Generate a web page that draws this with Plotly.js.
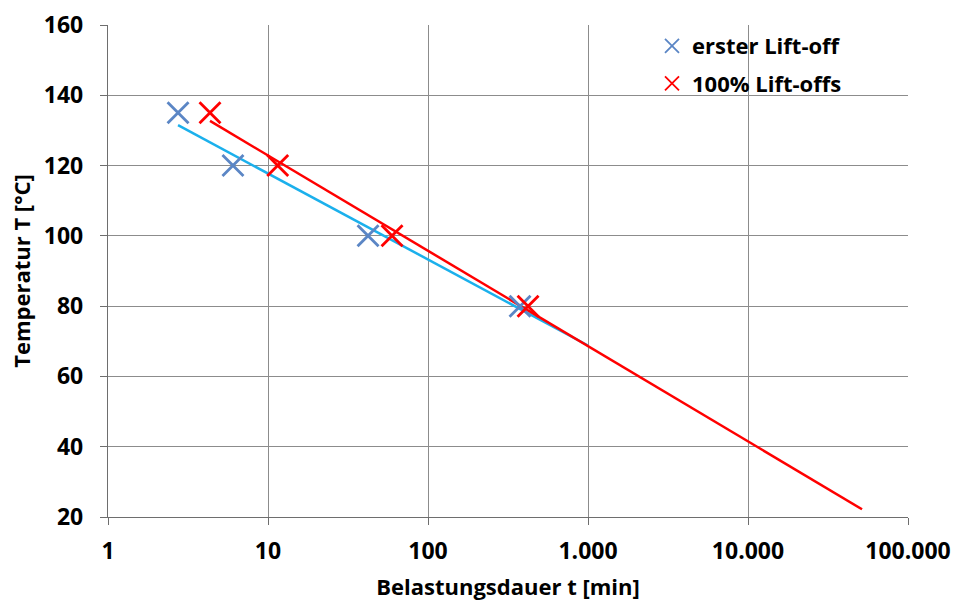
<!DOCTYPE html>
<html>
<head>
<meta charset="utf-8">
<script src="https://cdn.plot.ly/plotly-3.0.1.min.js"></script>
<style>html,body{margin:0;padding:0;background:#fff}#chart{width:955px;height:601px}</style>
</head>
<body>
<div id="chart"></div>
<script>
// Measured points (Belastungsdauer t [min], Temperatur T [°C])
const ersterX = [2.74, 6.04, 42.2, 376];
const ersterY = [135, 120, 100, 80];
const vollX = [4.34, 11.5, 59.6, 422];
const vollY = [135, 120, 100, 80];
// Trend lines (end points)
const ersterTrendX = [2.74, 1000];
const ersterTrendY = [131.5, 68.8];
const vollTrendX = [4.34, 51600];
const vollTrendY = [132.7, 22.2];
// Tick labels
const xTickVals = [1, 10, 100, 1000, 10000, 100000];
const xTickText = ['1', '10', '100', '1.000', '10.000', '100.000'];
const yTickVals = [20, 40, 60, 80, 100, 120, 140, 160];
const legendNames = ['erster Lift-off', '100% Lift-offs'];

const blueMarker = '#5B86C5';
const red = '#FF0000';
const lightBlue = '#1BB0EC';
const font = '"Open Sans", sans-serif';

const traces = [
  {x: ersterTrendX, y: ersterTrendY, mode: 'lines', line: {color: lightBlue, width: 2.5}, showlegend: false, hoverinfo: 'skip'},
  {x: vollTrendX, y: vollTrendY, mode: 'lines', line: {color: red, width: 2.5}, showlegend: false, hoverinfo: 'skip'},
  {x: ersterX, y: ersterY, mode: 'markers', showlegend: false,
   marker: {symbol: 'x-thin-open', size: 21, color: blueMarker, line: {color: blueMarker, width: 2.8}}},
  {x: vollX, y: vollY, mode: 'markers', showlegend: false,
   marker: {symbol: 'x-thin-open', size: 21, color: red, line: {color: red, width: 2.8}}},
  {x: [null], y: [null], mode: 'markers', name: legendNames[0], legendgroup: 'a',
   marker: {symbol: 'x-thin-open', size: 14, color: blueMarker, line: {color: blueMarker, width: 1.8}}},
  {x: [null], y: [null], mode: 'markers', name: legendNames[1], legendgroup: 'b',
   marker: {symbol: 'x-thin-open', size: 14, color: red, line: {color: red, width: 1.8}}}
];

const layout = {
  width: 955, height: 601,
  margin: {l: 108, r: 47, t: 25, b: 84},
  paper_bgcolor: '#fff', plot_bgcolor: '#fff',
  font: {family: font, color: '#000'},
  xaxis: {
    type: 'log', range: [0, 5],
    tickvals: xTickVals, ticktext: xTickText,
    tickfont: {size: 23, family: font, color: '#000', weight: 700},
    ticklabelstandoff: 6,
    showgrid: true, gridcolor: '#8c8c8c', gridwidth: 1,
    showline: true, linecolor: '#6e6e6e', linewidth: 1.2,
    ticks: 'outside', ticklen: 7, tickcolor: '#6e6e6e',
    zeroline: false,
    title: {text: 'Belastungsdauer t [min]', font: {size: 22, family: font, color: '#000', weight: 700}, standoff: 16}
  },
  yaxis: {
    range: [20, 160],
    tickvals: yTickVals,
    tickfont: {size: 23, family: font, color: '#000', weight: 700},
    ticklabelstandoff: 12,
    showgrid: true, gridcolor: '#8c8c8c', gridwidth: 1,
    showline: true, linecolor: '#6e6e6e', linewidth: 1.2,
    ticks: 'outside', ticklen: 7, tickcolor: '#6e6e6e',
    zeroline: false,
    title: {text: 'Temperatur T [°C]', font: {size: 22, family: font, color: '#000', weight: 700}, standoff: 7}
  },
  legend: {
    x: 0.68, y: 1.0, xanchor: 'left', yanchor: 'top',
    bgcolor: 'rgba(0,0,0,0)', borderwidth: 0,
    font: {size: 22, family: font, color: '#000', weight: 700},
    traceorder: 'grouped', tracegroupgap: 6, itemwidth: 30
  },
  showlegend: true
};

Plotly.newPlot('chart', traces, layout, {displayModeBar: false, staticPlot: true});
</script>
</body>
</html>
